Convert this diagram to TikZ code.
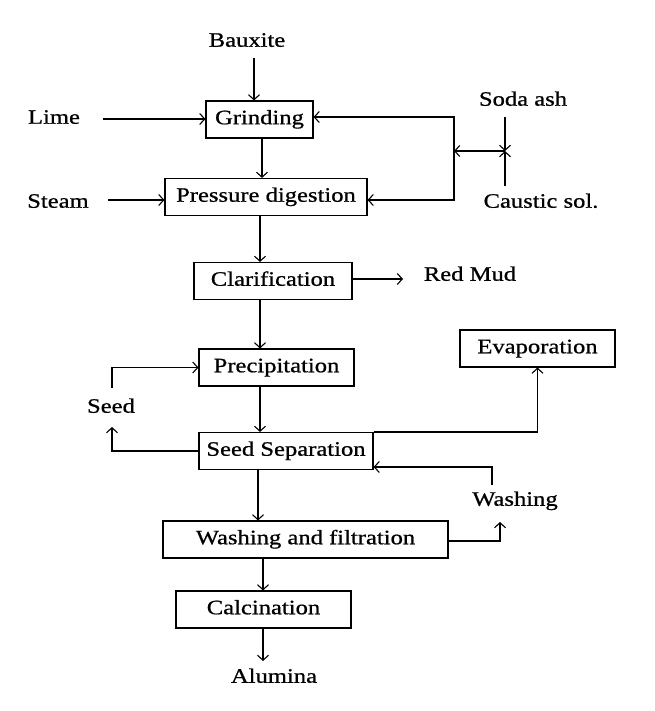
\documentclass[tikz,border=0pt]{standalone}
\usepackage{fontspec}
\setmainfont[FakeStretch=1.2,FakeBold=0.8]{Liberation Serif}
\usetikzlibrary{arrows.meta}
\begin{document}
\begin{tikzpicture}[x=1pt,y=-1pt,
  every node/.style={font=\fontsize{20.5}{24}\selectfont, inner sep=0pt, text height=1.25em, text depth=0.3em},
  box/.style={draw, line width=1.1pt, minimum height=37pt},
  lbl/.style={},
  arr/.style={line width=1.1pt, -{Straight Barb[length=5pt,width=11pt,line width=1.1pt]}},
  arrboth/.style={line width=1.1pt, {Straight Barb[length=5pt,width=11pt,line width=1.1pt]}-{Straight Barb[length=5pt,width=11pt,line width=1.1pt]}},
  ln/.style={line width=1.1pt}]
\useasboundingbox (0,0) rectangle (654,711);
% boxes
\node[box, minimum width=107pt] (grind) at (259.5,119.5) {Grinding};
\node[box, minimum width=202pt] (pd) at (266,197) {Pressure digestion};
\node[box, minimum width=158pt] (clar) at (273,281) {Clarification};
\node[box, minimum width=155pt] (prec) at (276.5,367.5) {Precipitation};
\node[box, minimum width=155pt] (evap) at (537.5,348.5) {Evaporation};
\node[box, minimum width=174pt] (ss) at (286,451) {Seed Separation};
\node[box, minimum width=285pt] (wf) at (305.5,539.5) {Washing and filtration};
\node[box, minimum width=175pt] (calc) at (263.5,609.5) {Calcination};
% labels
\node[lbl] (bauxite) at (247,42) {Bauxite};
\node[lbl] (lime) at (54,119) {Lime};
\node[lbl] (steam) at (58,203) {Steam};
\node[lbl] (soda) at (523,101) {Soda ash};
\node[lbl] (caustic) at (541,203) {Caustic sol.};
\node[lbl] (redmud) at (470,276) {Red Mud};
\node[lbl] (seed) at (111,408) {Seed};
\node[lbl] (washing) at (515,501) {Washing};
\node[lbl] (alumina) at (274,678) {Alumina};
% free ends
\coordinate (bx) at (254,58);
\coordinate (lm) at (103,119);
\coordinate (st) at (108,200);
\coordinate (jt) at (454,117);
\coordinate (jb) at (454,200);
\coordinate (jn) at (505,151);
\coordinate (sa) at (505,117);
\coordinate (cs) at (505,186);
\coordinate (rm) at (403,279);
\coordinate (s1) at (112,427);
\coordinate (s2) at (112,388);
\coordinate (w1) at (492,485);
\coordinate (w2) at (492,467);
\coordinate (w3) at (500,522);
\coordinate (w4) at (500,541);
\coordinate (al) at (263,661);
\coordinate (m1) at (262,0);
\coordinate (m2) at (260,0);
\coordinate (m3) at (258,0);
\coordinate (m4) at (263,0);
% connectors
\draw[arr] (bx) -- (bx |- grind.north);
\draw[arr] (lm) -- (lm -| grind.west);
\draw[arr] (grind.south -| m1) -- (pd.north -| m1);
\draw[arr] (st) -- (st -| pd.west);
\draw[arrboth] (grind.east |- jt) -- (jt) -- (jb) -- (pd.east |- jb);
\draw[arr] (jn) -- (jn -| jt);
\draw[arr] (sa) -- (jn);
\draw[arr] (cs) -- (jn);
\draw[arr] (pd.south -| m2) -- (clar.north -| m2);
\draw[arr] (clar.east |- rm) -- (rm);
\draw[arr] (clar.south -| m2) -- (prec.north -| m2);
\draw[arr] (prec.south -| m2) -- (ss.north -| m2);
\draw[arr] (ss.west) -| (s1);
\draw[arr] (s2) |- (prec.west);
\draw[arr] (ss.north east) -| (evap.south);
\draw[arr] (w1) -- (w2) -- (w2 -| ss.east);
\draw[arr] (ss.south -| m3) -- (wf.north -| m3);
\draw[arr] (w4 -| wf.east) -- (w4) -- (w3);
\draw[arr] (wf.south -| m4) -- (calc.north -| m4);
\draw[arr] (calc.south -| m4) -- (al);
\end{tikzpicture}
\end{document}
